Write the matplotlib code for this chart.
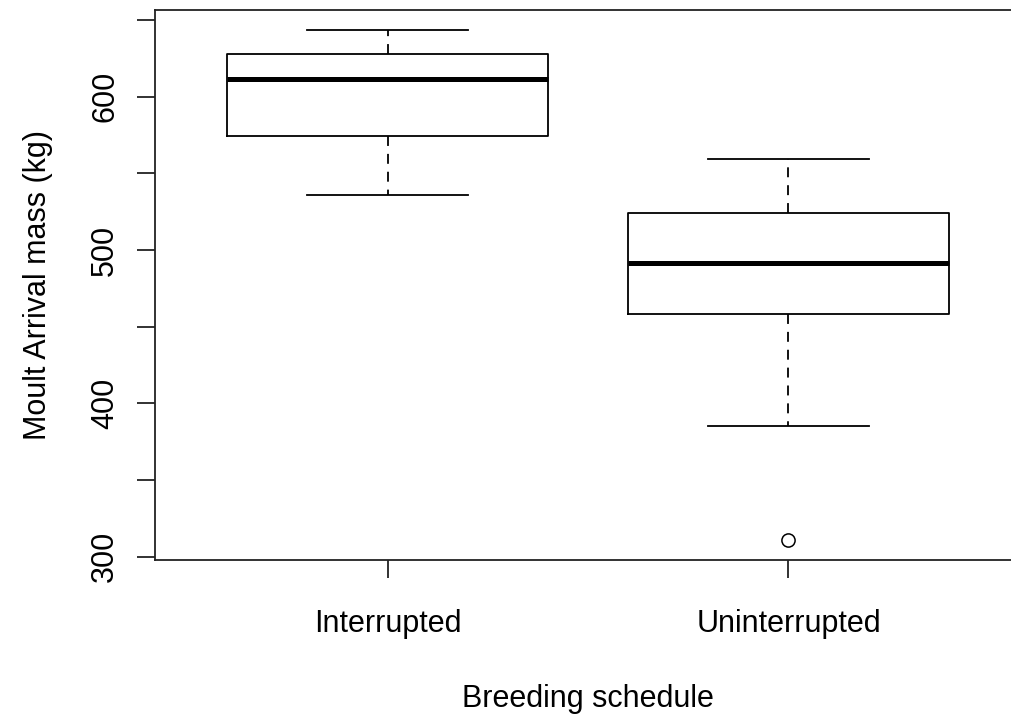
import matplotlib
matplotlib.use("Agg")
import matplotlib.pyplot as plt

plt.rcParams['font.family'] = ['Liberation Sans', 'DejaVu Sans']

# summary stats for each breeding schedule group
groups = ['Interrupted', 'Uninterrupted']
q1 = [574.1, 458.4]
medians = [611.7, 491.3]
q3 = [627.8, 524.1]
whisker_lo = [535.8, 385.1]
whisker_hi = [643.2, 559.6]
outliers = [[], [311.2]]

yticks = [300, 350, 400, 450, 500, 550, 600, 650]
ytick_labels = ['300', '', '400', '', '500', '', '600', '']

stats = []
for i, g in enumerate(groups):
    stats.append({'label': g, 'q1': q1[i], 'med': medians[i], 'q3': q3[i],
                  'whislo': whisker_lo[i], 'whishi': whisker_hi[i],
                  'fliers': outliers[i]})

fig = plt.figure(figsize=(10.11, 7.2), dpi=100)
# frame runs slightly past the right edge of the canvas
ax = fig.add_axes([155/1011, 1 - 560/720, 866/1011, 550/720])

lw = 1.3
ax.bxp(stats, positions=[1, 2], widths=0.8, capwidths=0.4,
       boxprops=dict(color='black', linewidth=lw),
       whiskerprops=dict(color='black', linewidth=lw, linestyle=(0, (5.5, 4.4))),
       capprops=dict(color='black', linewidth=lw),
       medianprops=dict(color='black', linewidth=3.6, solid_capstyle='butt'),
       flierprops=dict(marker='o', markerfacecolor='none', markeredgecolor='black',
                       markersize=9.5, markeredgewidth=1.1))

ax.set_xlim(0.42, 2.58)
ax.set_ylim(297.9, 656.5)
ax.set_yticks(yticks)
ax.set_yticklabels(ytick_labels, rotation=90, va='center')
ax.set_xticks([1, 2])
ax.set_xticklabels(groups)

ax.tick_params(axis='both', length=13, width=lw, labelsize=22, color='#222222')
ax.tick_params(axis='y', pad=12)
ax.tick_params(axis='x', pad=22)
for s in ax.spines.values():
    s.set_linewidth(lw)
    s.set_color('#222222')

ax.set_xlabel('Breeding schedule', fontsize=22, labelpad=33)
ax.set_ylabel('Moult Arrival mass (kg)', fontsize=22, labelpad=27)

fig.savefig('out.png', dpi=100)
